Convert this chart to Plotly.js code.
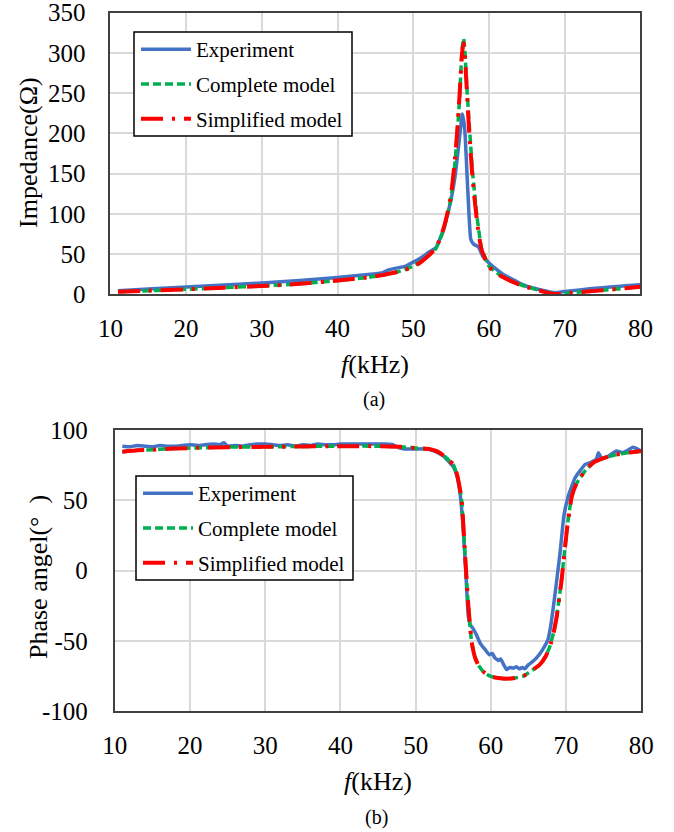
<!DOCTYPE html>
<html>
<head>
<meta charset="utf-8">
<script src="https://cdn.plot.ly/plotly-3.0.1.min.js"></script>
<style>
  html, body { margin: 0; padding: 0; background: #fff; }
  #chart { width: 674px; height: 832px; }
</style>
</head>
<body>
<div id="chart"></div>
<script>
// ---- (a) Impedance vs frequency ----
const freqExpZ = [11, 15, 20, 25, 30, 35, 40, 44, 46, 46.8, 47.5, 49, 50, 51, 52, 53, 54, 55, 55.5, 56, 56.5, 56.8, 57.2, 57.6, 58, 58.6, 59.2, 60, 61, 62, 63, 64, 65, 66, 67, 68, 68.7, 70, 72, 74, 76, 78, 80];
const impedanceExp = [4.5, 6.5, 9, 11.5, 14, 17, 21, 24.5, 27, 30.5, 32, 35, 40, 45, 52, 58, 80, 118, 145, 185, 224, 205, 130, 68, 62, 59, 47, 39, 31, 24, 19, 14, 10, 7.5, 5, 3, 2, 3.5, 5.5, 7.5, 9, 10.5, 12];

const freqModelZ = [11, 15, 20, 25, 30, 35, 40, 44, 46, 48, 50, 51, 52, 53, 54, 54.5, 55, 55.5, 55.8, 56.1, 56.45, 56.65, 56.85, 57.05, 57.4, 57.85, 58.4, 59, 60, 61, 62, 63, 64, 65, 66, 67, 68, 68.7, 69.5, 71, 73, 75, 78, 80];
const impedanceComplete = [3.2, 4.5, 6.2, 8.2, 10.3, 13, 17, 21, 24, 28, 35, 41, 48, 57, 80, 98, 120, 162, 198, 240, 305, 318, 298, 262, 210, 150, 98, 58, 35, 27, 21, 16.5, 12.5, 9.4, 6.5, 4, 1.5, 0.4, 0.5, 2, 3.5, 5, 7.5, 9.4];
const impedanceSimplified = [3.2, 4.5, 6.2, 8.2, 10.3, 13, 17, 21, 24, 28, 34, 40, 48, 57, 82, 100, 124, 167, 202, 245, 300, 312, 292, 258, 200, 142, 92, 56, 34, 26, 20.5, 16, 12, 9, 6.2, 3.8, 1.3, 0.3, 0.5, 2, 3.5, 5, 7.5, 9.4];

// ---- (b) Phase angle vs frequency ----
const freqExpP = [11, 12, 13, 14, 15, 16, 17, 18, 19, 20, 21, 22, 23, 24, 24.5, 25, 26, 27, 28, 29, 30, 31, 32, 33, 34, 35, 36, 37, 38, 39, 40, 41, 42, 43, 44, 45, 46, 47, 47.5, 48.5, 50, 51.5, 52.5, 53.7, 54.5, 55, 55.5, 55.9, 56.3, 56.65, 57, 57.3, 57.6, 58.1, 58.6, 59.2, 59.8, 60.2, 60.5, 61, 61.3, 61.7, 62.1, 62.5, 63, 63.4, 63.8, 64.2, 64.5, 65, 65.5, 66.1, 66.8, 67.6, 68, 68.5, 69.2, 69.7, 70.3, 71.2, 72, 72.5, 73.3, 74, 74.3, 74.7, 75.5, 76.7, 77.5, 78, 78.9, 79.5, 80];
const phaseExp = [88.5, 88, 89, 88.5, 88, 89, 88.5, 88.5, 89, 89.5, 89, 89.5, 90, 89.5, 91, 88.5, 89, 88.5, 89.5, 90, 90, 89.5, 89, 89.5, 88.5, 89.5, 89, 90, 89.5, 89.5, 90, 90, 90, 90, 90, 90, 90, 89.5, 88, 86.5, 86.5, 86.6, 85, 81.4, 77, 74, 67, 55, 31.5, 0.7, -32.5, -39, -41, -46, -52, -56, -60, -59, -62, -64, -63, -67, -70.5, -69, -69.5, -68.5, -70, -69, -70, -67, -65, -62, -57, -49, -38, -18, 12.6, 38.6, 53, 66, 72, 75.4, 77, 79, 83.8, 80, 81, 85, 84, 85, 87.8, 86.5, 85];

const freqModelP = [11, 13, 15, 18, 21, 25, 30, 35, 40, 45, 48, 50, 51.5, 52.5, 53.2, 54, 54.5, 55, 55.5, 56.1, 56.55, 57, 57.45, 57.9, 58.3, 59, 59.9, 61, 62.1, 63.2, 64.3, 65.5, 66.5, 67.3, 67.85, 68.3, 68.75, 69.4, 70.1, 70.75, 71.3, 71.85, 72.7, 73.6, 75, 76.7, 78.5, 80];
const phaseComplete = [84.5, 85.5, 86, 86.8, 87.3, 87.8, 88, 88.3, 88.5, 88.5, 88, 87.2, 86.6, 85.5, 83.8, 80.5, 78, 75.4, 68, 50.5, 12.6, -25.4, -51.5, -62, -67, -72, -75.2, -76.5, -77, -76.5, -75.2, -71, -67, -61, -53.9, -45, -32.5, -6.4, 29, 53, 61, 66, 72, 76.7, 80, 82.5, 84, 85];
const phaseSimplified = [84.5, 85.5, 86, 86.8, 87.3, 87.8, 88, 88.3, 88.5, 88.5, 88, 87.2, 86.6, 85.5, 83.8, 80.5, 78, 75.6, 68.5, 51, 13, -25, -51, -62, -67, -72, -75.2, -76.5, -77, -76.5, -75.2, -71, -67, -61, -54, -45.5, -33, -7, 28.5, 52.5, 61, 66, 72, 76.7, 80, 82.5, 84, 85];

const seriesNames = ['Experiment', 'Complete model', 'Simplified model'];
const freqTicks = [10, 20, 30, 40, 50, 60, 70, 80];
const impedanceTicks = [0, 50, 100, 150, 200, 250, 300, 350];
const phaseTickVals = [-100, -50, 0, 50, 100];
const phaseTickText = ['-100', '-50', '0', '50', '100'];

// ---- styling ----
const FONT = 'Liberation Serif';
const C_EXP = '#4472C4', C_COMP = '#00B050', C_SIMP = '#FF0000';
const DASH_COMP = '8px,4px';
const DASH_SIMP = '22px,9px,3px,9px';

function trace(x, y, name, color, dash, width, xa, ya, legend, group) {
  return {
    x: x, y: y, name: name, type: 'scatter', mode: 'lines',
    xaxis: xa, yaxis: ya, legend: legend, legendgroup: group,
    line: { color: color, width: width, dash: dash, shape: 'spline', smoothing: 0.4 },
    hoverinfo: 'skip'
  };
}

const data = [
  trace(freqExpZ, impedanceExp, seriesNames[0], C_EXP, 'solid', 3.5, 'x', 'y', 'legend', 'a1'),
  trace(freqModelZ, impedanceComplete, seriesNames[1], C_COMP, DASH_COMP, 3.5, 'x', 'y', 'legend', 'a2'),
  trace(freqModelZ, impedanceSimplified, seriesNames[2], C_SIMP, DASH_SIMP, 4, 'x', 'y', 'legend', 'a3'),
  trace(freqExpP, phaseExp, seriesNames[0], C_EXP, 'solid', 3.5, 'x2', 'y2', 'legend2', 'b1'),
  trace(freqModelP, phaseComplete, seriesNames[1], C_COMP, DASH_COMP, 3.5, 'x2', 'y2', 'legend2', 'b2'),
  trace(freqModelP, phaseSimplified, seriesNames[2], C_SIMP, DASH_SIMP, 4, 'x2', 'y2', 'legend2', 'b3')
];

const W = 674, H = 832;
const px = v => v / W;
const py = v => 1 - v / H;

const axisBase = {
  showgrid: true, gridcolor: '#d9d9d9', gridwidth: 2,
  showline: true, mirror: true, linecolor: '#404040', linewidth: 2,
  ticks: '', zeroline: false, fixedrange: true, ticklabeloverflow: 'allow',
  tickfont: { family: FONT, size: 25, color: '#000' }
};

// legend entries sit inside framed boxes drawn as shapes
const legendBase = {
  xanchor: 'left', yanchor: 'top',
  bgcolor: 'rgba(0,0,0,0)', borderwidth: 0,
  font: { family: FONT, size: 21, color: '#000' },
  itemwidth: 50, tracegroupgap: 4.5, traceorder: 'grouped'
};

function legendFrame(x0, y0, x1, y1) {
  return {
    type: 'rect', xref: 'paper', yref: 'paper',
    x0: px(x0), x1: px(x1), y0: py(y1), y1: py(y0),
    line: { color: '#000', width: 1.5 }, fillcolor: '#fff', layer: 'above'
  };
}

const layout = {
  width: W, height: H,
  margin: { l: 0, r: 0, t: 0, b: 0 },
  paper_bgcolor: '#fff', plot_bgcolor: '#fff',
  font: { family: FONT, color: '#000' },
  showlegend: true,
  xaxis: Object.assign({}, axisBase, {
    domain: [px(110.4), px(640.4)], anchor: 'y', range: [10, 80],
    tickmode: 'array', tickvals: freqTicks, ticklabelstandoff: 11
  }),
  yaxis: Object.assign({}, axisBase, {
    domain: [py(294.3), py(12.5)], anchor: 'x', range: [0, 350],
    tickmode: 'array', tickvals: impedanceTicks, ticklabelstandoff: 18
  }),
  xaxis2: Object.assign({}, axisBase, {
    domain: [px(114.8), px(641.3)], anchor: 'y2', range: [10, 80],
    tickmode: 'array', tickvals: freqTicks, ticklabelstandoff: 11
  }),
  yaxis2: Object.assign({}, axisBase, {
    domain: [py(711), py(430)], anchor: 'x2', range: [-100, 100],
    tickmode: 'array', tickvals: phaseTickVals, ticktext: phaseTickText, ticklabelstandoff: 20
  }),
  legend: Object.assign({}, legendBase, { x: px(136), y: py(29) }),
  legend2: Object.assign({}, legendBase, { x: px(138), y: py(473) }),
  shapes: [
    legendFrame(134, 32, 352, 136),
    legendFrame(136, 476, 353, 580)
  ],
  annotations: [
    { text: 'Impedance(Ω)', x: px(28), y: py(153), textangle: -90 },
    { text: '<i>f</i>(kHz)', x: px(375), y: py(364) },
    { text: '(a)', x: px(374), y: py(399), size: 20 },
    { text: 'Phase angel(°  )', x: px(38), y: py(577), textangle: -90 },
    { text: '<i>f</i>(kHz)', x: px(378), y: py(781) },
    { text: '(b)', x: px(376), y: py(817), size: 20 }
  ].map(a => ({
    text: a.text, x: a.x, y: a.y, xref: 'paper', yref: 'paper',
    xanchor: 'center', yanchor: 'middle', showarrow: false,
    textangle: a.textangle || 0,
    font: { family: FONT, size: a.size || 26, color: '#000' }
  }))
};

Plotly.newPlot('chart', data, layout, { displayModeBar: false, staticPlot: true });
</script>
</body>
</html>
